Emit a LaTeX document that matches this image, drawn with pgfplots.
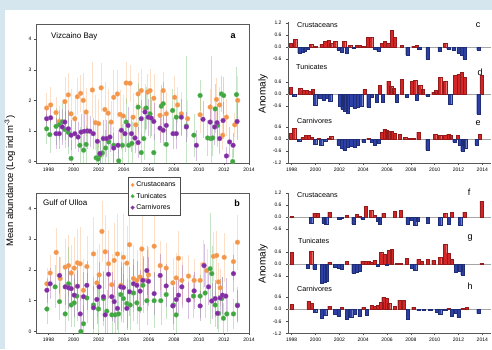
\documentclass[border=0pt]{standalone}
\usepackage{fontspec}
\setmainfont{Liberation Sans}
\usepackage{pgfplots}
\usepackage{pgfplotstable}
\pgfplotsset{compat=1.18}

\definecolor{bgblue}{RGB}{214,230,238}
\definecolor{corange}{RGB}{244,150,74}
\definecolor{cgreen}{RGB}{64,166,64}
\definecolor{cpurple}{RGB}{130,44,164}
\definecolor{bred}{RGB}{212,38,38}
\definecolor{bblue}{RGB}{44,64,166}

% ---------- panel a (Vizcaino Bay) ----------
\pgfplotstableread{
x y e
1997.85 1.75 0.5
1998.17 1.85 0.6
1998.6 1.60 0.5
1998.86 1.31 0.5
1999.3 1.96 0.8
1999.58 2.18 0.7
1999.8 1.56 0.8
2000.1 1.40 0.7
2000.3 2.12 0.6
2000.56 2.23 0.6
2000.77 2.00 0.9
2001.0 1.62 0.8
2001.5 2.34 0.9
2001.75 1.27 0.9
2002.0 1.24 0.8
2002.2 2.41 0.8
2002.5 1.70 0.9
2002.76 1.58 0.8
2003.0 1.29 0.7
2003.2 2.10 0.9
2003.5 2.21 0.8
2003.7 1.54 0.8
2003.96 1.49 0.7
2004.2 2.57 0.7
2004.5 2.56 0.6
2004.75 1.45 0.8
2004.97 1.20 0.7
2005.15 2.21 0.7
2005.4 2.32 0.7
2005.7 1.72 0.8
2005.9 2.27 0.6
2006.1 2.32 0.7
2006.4 2.07 0.8
2006.9 1.51 0.8
2007.15 2.32 0.6
2007.4 1.56 0.7
2008.07 2.10 0.7
2008.3 1.85 0.6
2008.6 1.56 0.7
2009.1 1.40 0.6
2010.1 1.53 0.6
2010.9 1.78 0.6
2011.4 2.03 0.7
2011.66 1.85 0.6
2011.9 0.86 0.5
2012.2 1.45 0.6
2012.86 1.20 0.4
2013.1 2.00 0.8
}\tabAo
\pgfplotstableread{
x y e
1997.85 1.07 0.5
1998.1 0.88 0.6
1998.6 1.15 0.6
1998.86 1.20 0.5
1999.1 1.30 0.6
1999.3 1.05 0.6
1999.58 0.95 0.7
1999.8 0.10 0.6
2000.5 0.53 0.6
2000.8 0.37 0.5
2001.0 0.56 0.6
2001.8 0.12 0.5
2001.95 0.08 0.5
2002.1 0.20 0.5
2002.3 0.28 0.6
2002.55 0.44 0.6
2002.8 0.64 0.7
2003.2 0.53 0.6
2003.6 0.02 0.4
2003.9 0.53 0.7
2004.2 1.29 0.8
2004.4 0.53 0.6
2004.65 0.59 0.7
2005.15 1.78 0.8
2005.4 0.29 0.6
2005.6 0.75 0.7
2005.8 1.75 0.7
2006.1 1.56 0.8
2006.4 0.29 0.6
2007.0 1.81 0.7
2007.15 1.89 0.7
2007.4 0.56 0.6
2007.9 1.67 0.7
2008.2 1.45 0.7
2009.0 1.16 2.3
2009.6 0.86 0.7
2010.1 2.16 0.5
2010.7 0.77 0.6
2010.95 0.75 2.7
2011.1 0.77 0.6
2011.3 1.72 0.8
2011.5 1.18 0.7
2011.8 2.21 0.6
2011.98 2.16 0.6
2012.7 0.00 0.4
2013.0 2.19 0.9
}\tabAg
\pgfplotstableread{
x y e
1997.85 1.40 0.4
1998.17 1.43 0.5
1998.6 0.91 0.5
1998.86 0.91 0.5
1999.1 1.13 0.6
1999.3 1.29 0.6
1999.58 1.07 0.6
1999.8 0.86 0.5
2000.1 0.91 0.5
2000.36 0.80 0.5
2000.6 0.96 0.6
2000.85 0.99 0.6
2001.1 1.00 0.6
2001.3 0.99 0.5
2001.57 0.91 0.5
2001.9 0.66 0.5
2002.1 0.26 0.4
2002.37 0.75 0.6
2002.63 0.75 0.6
2002.9 0.80 0.5
2003.2 0.44 0.5
2003.55 0.53 0.5
2003.82 1.02 0.6
2004.1 0.91 0.6
2004.35 1.18 0.6
2004.62 0.91 0.6
2004.9 0.77 0.5
2005.15 0.62 0.5
2005.4 1.40 0.6
2005.7 1.62 0.6
2005.95 1.45 0.6
2006.2 1.42 0.6
2006.4 1.31 0.6
2006.9 1.09 0.5
2007.15 1.02 0.5
2007.4 1.18 0.5
2007.94 0.91 0.5
2008.2 0.91 0.5
2008.6 1.45 0.6
2009.0 1.13 0.5
2009.8 0.53 0.5
2010.33 1.38 0.6
2010.9 1.29 0.6
2011.26 1.13 0.6
2011.45 1.27 0.6
2011.66 0.75 0.5
2011.93 1.34 0.6
2012.2 0.18 0.3
2012.45 0.64 0.5
2012.73 0.53 0.4
2013.05 1.31 0.6
}\tabAp

% ---------- panel b (Gulf of Ulloa) ----------
\pgfplotstableread{
x y e
1997.87 1.55 0.5
1998.13 1.90 0.6
1998.61 2.57 0.8
1998.93 1.72 0.7
1999.33 2.09 0.9
1999.6 2.14 1.0
1999.81 1.90 0.9
2000.05 2.06 1.0
2000.31 2.23 1.1
2000.53 2.20 1.2
2000.79 1.34 1.0
2001.06 2.11 1.0
2001.59 2.52 1.2
2001.86 1.58 1.1
2002.04 1.84 1.0
2002.26 3.25 1.0
2002.52 2.59 1.2
2002.79 2.20 1.1
2003.05 1.52 1.0
2003.24 2.31 1.2
2003.5 2.52 1.3
2003.77 1.50 1.1
2003.98 2.41 1.4
2004.25 2.22 1.2
2004.46 2.82 1.5
2004.78 1.72 1.1
2005.05 1.66 1.0
2005.31 1.77 1.0
2005.45 2.68 1.2
2005.85 1.66 1.0
2005.98 1.84 0.9
2006.43 2.77 1.0
2006.91 2.14 0.8
2007.39 2.06 0.8
2007.92 1.58 0.8
2008.19 1.74 0.8
2008.37 2.38 0.9
2008.64 1.66 0.8
2009.17 1.80 0.7
2009.62 1.66 0.7
2010.1 1.66 0.6
2010.37 2.17 0.8
2010.63 1.98 0.7
2011.16 2.44 0.8
2011.42 2.47 0.8
2011.56 1.61 0.6
2011.7 1.42 0.6
2012.02 2.41 0.8
2012.76 2.27 0.6
2013.08 2.90 0.9
}\tabBo
\pgfplotstableread{
x y e
1997.87 0.73 0.5
1998.53 1.45 0.7
1998.88 0.97 0.6
1999.33 0.57 0.6
1999.6 1.55 1.2
1999.81 0.86 0.7
2000.05 0.93 0.8
2000.26 1.15 0.8
2000.58 0.00 0.5
2000.79 0.25 0.6
2001.06 1.09 0.8
2001.59 0.86 0.9
2001.99 0.73 0.8
2002.39 1.07 0.9
2002.65 0.66 0.7
2003.05 0.54 0.6
2003.32 0.54 0.6
2003.59 0.57 0.7
2003.77 1.20 0.9
2003.98 1.07 0.8
2004.25 0.91 0.8
2004.52 0.86 0.8
2004.78 1.25 0.9
2005.05 0.93 0.7
2005.26 0.73 0.7
2005.53 1.50 0.9
2005.85 1.00 0.8
2006.43 1.00 0.9
2006.96 1.00 0.8
2007.39 1.20 0.8
2007.97 0.86 0.8
2008.19 0.54 0.6
2009.57 1.15 0.7
2010.1 1.15 0.7
2010.5 1.25 0.8
2010.9 2.04 1.8
2011.03 1.88 0.9
2011.3 0.86 0.7
2011.56 0.59 0.6
2011.83 1.07 0.7
2011.96 0.43 0.5
2012.23 0.57 0.6
2012.76 0.57 0.5
2013.08 0.86 0.6
}\tabBg
\pgfplotstableread{
x y e
1997.87 1.34 0.4
1998.13 1.55 0.5
1998.88 1.82 0.6
1999.33 1.45 0.6
1999.6 1.42 0.7
1999.81 1.39 0.6
2000.05 1.18 0.7
2000.31 1.47 0.8
2000.53 0.57 0.6
2000.79 1.13 0.8
2001.06 1.50 0.8
2001.59 0.77 0.7
2001.86 1.04 0.8
2002.04 1.45 0.8
2002.39 1.13 0.8
2002.52 0.54 0.6
2002.79 1.86 0.8
2003.05 1.13 0.8
2003.24 0.97 0.7
2003.5 0.75 0.7
2003.77 1.45 0.8
2003.98 1.43 0.8
2004.25 0.75 0.7
2004.46 1.29 0.8
2004.78 1.55 0.8
2005.05 1.50 0.8
2005.31 1.31 0.7
2005.53 1.66 0.8
2005.85 1.98 0.8
2005.98 1.63 0.8
2006.43 1.23 0.7
2006.91 1.82 0.7
2007.39 1.48 0.7
2007.92 0.83 0.6
2008.19 1.04 0.6
2008.37 1.18 0.6
2008.64 1.45 0.7
2009.17 1.02 0.6
2009.62 1.32 0.6
2010.1 0.83 0.5
2010.42 2.14 0.7
2010.77 1.45 0.6
2011.03 0.99 0.6
2011.3 1.07 0.6
2011.48 0.59 0.5
2011.7 1.09 0.6
2011.88 1.18 0.6
2012.15 1.15 0.6
2012.76 1.88 0.6
2013.08 0.84 0.5
}\tabBp

% ---------- anomalies ----------
\pgfplotstableread{
x v
1997.92 0.2
1998.28 0.4
1998.64 -0.3
1998.9 -0.25
1999.1 -0.2
1999.34 -0.1
1999.62 0.15
1999.96 0.05
2000.5 0.15
2000.8 0.3
2001.08 0.35
2001.3 0.2
2001.64 0.3
2001.92 -0.15
2002.2 -0.25
2002.39 0.3
2002.6 -0.3
2002.9 0.1
2003.17 -0.05
2003.45 0.1
2003.73 0.1
2004.0 0.05
2004.38 0.5
2004.66 0.5
2005.0 -0.1
2005.27 -0.2
2005.55 0.2
2005.83 0.3
2006.1 0.2
2006.4 0.85
2006.67 0.5
2007.23 0.1
2007.7 -0.4
2008.2 0.05
2008.5 0.1
2008.7 -0.1
2009.4 -0.6
2010.4 -0.2
2010.87 0.2
2011.15 -0.1
2011.57 -0.15
2012.0 -0.3
2012.27 -0.4
2012.5 -0.6
2013.66 -0.15
}\tabC
\pgfplotstableread{
x v
1997.92 0.35
1998.2 -0.1
1998.7 0.3
1998.98 0.2
1999.26 0.2
1999.54 0.15
1999.76 0.25
1999.96 -0.55
2000.38 -0.2
2000.66 -0.3
2000.94 -0.2
2001.22 -0.35
2002.06 -0.6
2002.25 -0.75
2002.48 -0.85
2002.7 -0.95
2002.98 -0.6
2003.26 -0.7
2003.54 -0.65
2003.82 -0.6
2004.1 0.25
2004.43 -0.65
2004.71 -0.15
2005.13 -0.4
2005.41 0.45
2005.64 -0.4
2006.11 0.65
2006.34 0.4
2006.53 0.3
2006.81 -0.4
2007.23 0.75
2007.65 -0.15
2008.07 0.65
2008.35 0.7
2008.49 -0.3
2008.77 0.45
2008.99 0.25
2009.38 -0.1
2009.89 0.1
2010.08 0.2
2010.45 0.85
2010.87 0.65
2011.29 -0.5
2011.71 0.95
2011.99 1.0
2012.27 1.1
2012.49 0.85
2013.66 -1.0
2013.94 0.95
}\tabD
\pgfplotstableread{
x v
1997.92 0.3
1998.2 0.55
1998.62 -0.1
1998.9 0.1
1999.17 0.2
1999.45 0.2
1999.68 0.1
1999.96 -0.25
2000.24 0.05
2000.46 -0.3
2000.8 -0.1
2001.08 0.05
2001.3 0.15
2001.92 -0.3
2002.2 -0.45
2002.42 -0.55
2002.7 -0.4
2002.98 -0.35
2003.26 -0.4
2003.54 -0.3
2004.01 -0.15
2004.43 0.05
2004.71 -0.15
2004.99 -0.3
2005.27 -0.2
2005.55 0.35
2005.78 0.5
2005.97 0.45
2006.17 0.4
2006.39 0.4
2006.62 0.3
2007.09 0.25
2007.51 0.1
2007.93 0.05
2008.21 0.05
2008.63 0.35
2009.38 -0.55
2010.03 0.25
2010.45 0.2
2010.87 0.2
2011.15 0.25
2011.37 0.2
2011.65 -0.15
2011.93 0.2
2012.13 -0.3
2012.32 -0.6
2012.55 -0.45
2013.52 -0.3
2013.8 0.25
}\tabE
\pgfplotstableread{
x v
1998.0 0.05
1999.62 -0.3
1999.9 0.2
2000.18 0.2
2000.66 -0.3
2000.88 -0.35
2001.16 0.25
2001.97 -0.1
2002.2 -0.05
2002.62 0.1
2003.17 -0.35
2003.45 0.15
2003.65 0.05
2003.93 -0.1
2004.21 0.55
2004.66 0.35
2004.99 0.1
2005.22 -0.2
2005.41 -0.35
2005.69 0.2
2006.67 0.3
2007.17 0.35
2007.71 -0.35
2008.07 -0.15
2008.35 -0.4
2008.57 -0.2
2009.41 -0.3
2010.45 -0.4
2010.87 0.2
2011.2 -0.35
2011.43 0.25
2012.13 -0.4
2012.49 0.25
2013.94 0.8
}\tabF
\pgfplotstableread{
x v
1998.0 0.6
1999.34 -0.2
1999.62 0.65
1999.9 -0.25
2000.52 -0.95
2000.74 -0.9
2000.94 -0.85
2001.16 0.1
2001.64 -0.15
2001.92 -0.2
2002.2 -0.25
2002.62 0.15
2003.17 -0.45
2003.45 -0.4
2003.68 -0.35
2003.93 0.15
2004.21 0.15
2004.43 0.15
2004.66 0.1
2004.94 0.2
2005.22 -0.1
2005.5 0.6
2005.78 0.5
2005.97 -0.05
2006.17 0.7
2006.39 0.75
2006.81 0.05
2007.17 0.05
2007.65 0.3
2008.07 -0.2
2008.35 -0.3
2008.63 0.25
2008.91 0.15
2009.41 0.25
2009.89 0.2
2010.45 0.35
2010.87 1.0
2011.15 0.55
2011.43 0.25
2011.76 -0.4
2012.13 -0.35
2012.32 -0.55
2013.94 0.05
}\tabG
\pgfplotstableread{
x v
1998.0 0.25
1999.4 0.4
1999.68 0.3
1999.96 -0.15
2000.52 -0.45
2000.8 -0.3
2001.16 0.15
2001.64 -0.25
2001.92 -0.35
2002.2 0.1
2002.62 -0.5
2002.98 -0.4
2003.31 -0.25
2003.68 -0.35
2004.01 0.1
2004.29 -0.3
2004.71 0.2
2004.99 0.15
2005.22 0.2
2005.5 0.35
2005.69 0.6
2005.97 0.55
2006.17 0.3
2006.67 0.15
2007.03 0.45
2007.37 0.45
2007.73 -0.5
2008.21 0.1
2008.63 -0.05
2009.05 -0.05
2009.61 -0.05
2010.17 -0.15
2010.45 -0.25
2010.87 -0.05
2011.15 0.05
2011.43 -0.35
2011.76 -0.2
2011.99 -0.4
2012.32 0.05
2012.69 0.1
2013.66 -0.2
}\tabH

\pgfplotsset{
  tickfont/.style={ticklabel style={font=\fontsize{5}{5.5}\selectfont}},
  leftpanel/.style={scale only axis, width=213pt,
    xmin=1997, xmax=2014, ymin=-0.05, ymax=4.5,
    xtick={1998,2000,...,2014}, ytick={0,1,2,3,4},
    tick pos=left, tick align=outside, major tick length=2pt,
    tickfont,
    /pgf/number format/1000 sep={},
    /pgf/number format/assume math mode=true,
    axis line style={black!65, line width=0.4pt},
    tick style={black!70, line width=0.4pt},
    xticklabel style={yshift=1pt}, yticklabel style={xshift=1pt}},
  pts/.style={only marks, mark=*, mark size=2.4pt, forget plot,
    mark options={fill=#1, draw=#1!80!white, line width=0.3pt},
    error bars/.cd, y dir=both, y explicit, error mark=none,
    error bar style={#1, opacity=0.3, line width=0.5pt}},
  barpanel/.style={scale only axis, width=203pt,
    xmin=1997.69, xmax=2014.73,
    axis y line*=left, axis line style={-, black!65, line width=0.4pt},
    tick align=outside, major tick length=2pt,
    tick style={black!70, line width=0.4pt},
    tickfont,
    /pgf/number format/1000 sep={},
    /pgf/number format/assume math mode=true,
    yticklabel style={xshift=-1pt}},
  nox/.style={axis x line=none},
  withx/.style={axis x line*=bottom, xtick={1998,2000,...,2014},
    xticklabel style={yshift=1pt}},
}

\newcommand{\bars}[1]{%
  \addplot[gray!70, line width=0.4pt, forget plot] coordinates {(1997.69,0) (2014.73,0)};
  \addplot[ybar, bar width=0.27, bar shift=0pt, fill=bred, draw=bred!70!black, line width=0.2pt,
    restrict y to domain=0:5] table[x=x, y=v] {#1};
  \addplot[ybar, bar width=0.27, bar shift=0pt, fill=bblue, draw=bblue!70!black, line width=0.2pt,
    restrict y to domain=-5:0] table[x=x, y=v] {#1};
}

\begin{document}
\begin{tikzpicture}
\fill[bgblue] (0,0) rectangle (492pt,349pt);
\fill[white] (5pt,0) rectangle (492pt,339pt);

% panel a
\begin{axis}[leftpanel, height=139pt, at={(36pt,186pt)}, anchor=south west]
\addplot[pts=corange] table[x=x, y=y, y error=e] {\tabAo};
\addplot[pts=cgreen] table[x=x, y=y, y error=e] {\tabAg};
\addplot[pts=cpurple] table[x=x, y=y, y error=e] {\tabAp};
\end{axis}

% panel b
\begin{axis}[leftpanel, height=140pt, at={(36pt,16pt)}, anchor=south west,
  legend style={at={(0.433,1.113)}, anchor=north west, draw=black!70, line width=0.4pt,
    font=\fontsize{7}{8}\selectfont, row sep=0.8pt, inner sep=2.4pt},
  legend cell align=left]
\addplot[pts=corange] table[x=x, y=y, y error=e] {\tabBo};
\addplot[pts=cgreen] table[x=x, y=y, y error=e] {\tabBg};
\addplot[pts=cpurple] table[x=x, y=y, y error=e] {\tabBp};
\addlegendimage{only marks, mark=*, mark size=1.8pt, mark options={fill=corange, draw=corange!80!white}}
\addlegendentry{Crustaceans}
\addlegendimage{only marks, mark=*, mark size=1.8pt, mark options={fill=cgreen, draw=cgreen!80!white}}
\addlegendentry{Tunicates}
\addlegendimage{only marks, mark=*, mark size=1.8pt, mark options={fill=cpurple, draw=cpurple!80!white}}
\addlegendentry{Carnivores}
\end{axis}

% c, d, e
\begin{axis}[barpanel, nox, height=47pt, at={(288pt,280pt)}, anchor=south west,
  ymin=-1.1, ymax=1.25, ytick={-0.6,0,0.6,1.2}, yticklabels={-0.6,0.0,0.6,1.2}]
\bars{\tabC}
\end{axis}
\begin{axis}[barpanel, nox, height=47pt, at={(288pt,233pt)}, anchor=south west,
  ymin=-1.1, ymax=1.25, ytick={-0.6,0,0.6}, yticklabels={-0.6,0.0,0.6}]
\bars{\tabD}
\end{axis}
\begin{axis}[barpanel, withx, height=47pt, at={(288pt,186pt)}, anchor=south west,
  ymin=-1.2, ymax=1.15, ytick={-1.2,-0.6,0,0.6}, yticklabels={-1.2,-0.6,0.0,0.6}]
\bars{\tabE}
\end{axis}

% f, g, h
\begin{axis}[barpanel, nox, height=46.8pt, at={(288pt,109.2pt)}, anchor=south west,
  ymin=-1.14, ymax=1.2, ytick={-0.6,0,0.6,1.2}, yticklabels={-0.6,0.0,0.6,1.2}]
\bars{\tabF}
\end{axis}
\begin{axis}[barpanel, nox, height=46.8pt, at={(288pt,62.4pt)}, anchor=south west,
  ymin=-1.13, ymax=1.21, ytick={-0.6,0,0.6}, yticklabels={-0.6,0.0,0.6}]
\bars{\tabG}
\end{axis}
\begin{axis}[barpanel, withx, height=46.7pt, at={(288pt,15.7pt)}, anchor=south west,
  ymin=-1.2, ymax=1.13, ytick={-1.2,-0.6,0,0.6}, yticklabels={-1.2,-0.6,0.0,0.6}]
\bars{\tabH}
\end{axis}

% annotations
\node[anchor=west, font=\fontsize{8}{9}\selectfont, inner sep=0] at (51pt,313pt) {Vizcaino Bay};
\node[font=\fontsize{9}{10}\selectfont\bfseries, inner sep=0] at (233pt,313pt) {a};
\node[anchor=west, font=\fontsize{8}{9}\selectfont, inner sep=0] at (43pt,146pt) {Gulf of Ulloa};
\node[font=\fontsize{9}{10}\selectfont\bfseries, inner sep=0] at (237pt,146pt) {b};
\node[rotate=90, font=\fontsize{9.5}{10}\selectfont, inner sep=0] at (10pt,168pt)
  {Mean abundance (Log ind m\textsuperscript{-3})};

\node[rotate=90, font=\fontsize{10}{11}\selectfont, inner sep=0] at (263pt,255pt) {Anomaly};
\node[rotate=90, font=\fontsize{10}{11}\selectfont, inner sep=0] at (263pt,85pt) {Anomaly};

\tikzset{sub/.style={anchor=west, font=\fontsize{7.2}{8}\selectfont, inner sep=0},
         let/.style={font=\fontsize{9}{10}\selectfont, inner sep=0}}
\node[sub] at (297pt,324pt) {Crustaceans};
\node[let] at (478pt,324pt) {c};
\node[sub] at (296pt,282.3pt) {Tunicates};
\node[let] at (480pt,277pt) {d};
\node[sub] at (297pt,228pt) {Carnivores};
\node[let] at (478pt,226pt) {e};

\node[sub] at (297pt,154pt) {Crustaceans};
\node[let] at (469pt,156.3pt) {f};
\node[sub] at (298pt,108.3pt) {Tunicates};
\node[let] at (470pt,111pt) {g};
\node[sub] at (297pt,59.7pt) {Carnivores};
\node[let] at (470pt,62.3pt) {h};

\pgfresetboundingbox
\path[use as bounding box] (0,0) rectangle (492pt,349pt);
\end{tikzpicture}
\end{document}
